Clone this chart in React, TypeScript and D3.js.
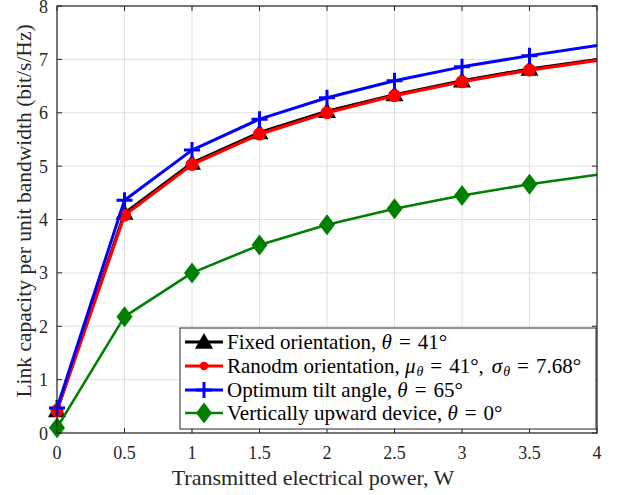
import React, { useEffect, useRef } from 'react';
import * as d3 from 'd3';

const power = [0, 0.5, 1, 1.5, 2, 2.5, 3, 3.5, 4];
const fixedOrientation = [0.42, 4.12, 5.06, 5.63, 6.03, 6.34, 6.6, 6.82, 7.0];
const randomOrientation = [0.42, 4.08, 5.03, 5.6, 6.0, 6.32, 6.58, 6.8, 6.98];
const optimumTilt = [0.47, 4.36, 5.3, 5.88, 6.28, 6.6, 6.86, 7.07, 7.26];
const verticalUpward = [0.1, 2.18, 3.0, 3.52, 3.9, 4.2, 4.45, 4.66, 4.84];

const xTicks = [0, 0.5, 1, 1.5, 2, 2.5, 3, 3.5, 4];
const yTicks = [0, 1, 2, 3, 4, 5, 6, 7, 8];

const WIDTH = 621;
const HEIGHT = 495;
const FONT = 'Liberation Serif, serif';

type Marker = 'triangle' | 'circle' | 'plus' | 'diamond';
type Part = { t: string; italic?: boolean; sub?: boolean; dx?: number };

const series: { values: number[]; color: string; marker: Marker; width: number }[] = [
  { values: fixedOrientation, color: '#000000', marker: 'triangle', width: 3 },
  { values: randomOrientation, color: '#ff0000', marker: 'circle', width: 3.2 },
  { values: optimumTilt, color: '#0000ff', marker: 'plus', width: 3 },
  { values: verticalUpward, color: '#008000', marker: 'diamond', width: 2.6 },
];

// legend labels, with the LaTeX-ish math split into parts
const eq: Part = { t: '=', dx: 7 };
const legendLabels: Part[][] = [
  [{ t: 'Fixed orientation, ' }, { t: 'θ', italic: true }, eq, { t: '41°', dx: 7 }],
  [
    { t: 'Ranodm orientation, ' }, { t: 'μ', italic: true }, { t: 'θ', italic: true, sub: true, dx: 1 },
    eq, { t: '41°', dx: 7 }, { t: ',' }, { t: 'σ', italic: true, dx: 8 }, { t: 'θ', italic: true, sub: true, dx: 1 },
    eq, { t: '7.68°', dx: 7 },
  ],
  [{ t: 'Optimum tilt angle, ' }, { t: 'θ', italic: true }, eq, { t: '65°', dx: 7 }],
  [{ t: 'Vertically upward device, ' }, { t: 'θ', italic: true }, eq, { t: '0°', dx: 7 }],
];

function drawMarker(g: d3.Selection<SVGGElement, unknown, null, undefined>, kind: Marker, cx: number, cy: number, color: string, scale = 1) {
  if (kind === 'triangle') {
    const s = 9 * scale;
    g.append('path')
      .attr('d', `M${cx},${cy - s}L${cx + s},${cy + s * 0.75}L${cx - s},${cy + s * 0.75}Z`)
      .attr('fill', color);
  } else if (kind === 'circle') {
    g.append('circle').attr('cx', cx).attr('cy', cy).attr('r', 6.5 * scale).attr('fill', color);
  } else if (kind === 'plus') {
    const s = 8 * scale;
    g.append('path')
      .attr('d', `M${cx - s},${cy}H${cx + s}M${cx},${cy - s}V${cy + s}`)
      .attr('stroke', color)
      .attr('stroke-width', 3);
  } else {
    const w = 8 * scale;
    const h = 10.5 * scale;
    g.append('path')
      .attr('d', `M${cx},${cy - h}L${cx + w},${cy}L${cx},${cy + h}L${cx - w},${cy}Z`)
      .attr('fill', color);
  }
}

const CapacityChart: React.FC = () => {
  const svgRef = useRef<SVGSVGElement>(null);

  useEffect(() => {
    if (!svgRef.current) return;
    const svg = d3.select(svgRef.current);
    svg.selectAll('*').remove();

    const left = 57, right = 597, top = 6, bottom = 433;

    const xScale = d3.scaleLinear().domain([0, 4]).range([left, right]);
    const yScale = d3.scaleLinear().domain([0, 8]).range([bottom, top]);

    svg.append('rect').attr('width', WIDTH).attr('height', HEIGHT).attr('fill', '#ffffff');

    // grid
    const grid = svg.append('g');
    xTicks.forEach(t => {
      grid.append('line')
        .attr('x1', xScale(t)).attr('x2', xScale(t))
        .attr('y1', top).attr('y2', bottom)
        .attr('stroke', '#e0e0e0').attr('stroke-width', 1);
    });
    yTicks.forEach(t => {
      grid.append('line')
        .attr('x1', left).attr('x2', right)
        .attr('y1', yScale(t)).attr('y2', yScale(t))
        .attr('stroke', '#e0e0e0').attr('stroke-width', 1);
    });

    // ticks inside, on all four sides
    const axisColor = '#262626';
    const tickLen = 5;
    const ticks = svg.append('g').attr('stroke', axisColor).attr('stroke-width', 1);
    xTicks.forEach(t => {
      ticks.append('line').attr('x1', xScale(t)).attr('x2', xScale(t)).attr('y1', bottom).attr('y2', bottom - tickLen);
      ticks.append('line').attr('x1', xScale(t)).attr('x2', xScale(t)).attr('y1', top).attr('y2', top + tickLen);
    });
    yTicks.forEach(t => {
      ticks.append('line').attr('x1', left).attr('x2', left + tickLen).attr('y1', yScale(t)).attr('y2', yScale(t));
      ticks.append('line').attr('x1', right).attr('x2', right - tickLen).attr('y1', yScale(t)).attr('y2', yScale(t));
    });

    // lines and markers
    const line = d3.line<number>()
      .x((_, i) => xScale(power[i]))
      .y(d => yScale(d));

    const plot = svg.append('g');
    series.forEach(s => {
      plot.append('path')
        .datum(s.values)
        .attr('fill', 'none')
        .attr('stroke', s.color)
        .attr('stroke-width', s.width)
        .attr('stroke-linejoin', 'round')
        .attr('d', line);
      s.values.forEach((v, i) => {
        if (power[i] >= 4) return;
        drawMarker(plot, s.marker, xScale(power[i]), yScale(v), s.color);
      });
    });

    // box
    svg.append('rect')
      .attr('x', left).attr('y', top)
      .attr('width', right - left).attr('height', bottom - top)
      .attr('fill', 'none').attr('stroke', axisColor).attr('stroke-width', 1.2);

    // tick labels
    xTicks.forEach(t => {
      svg.append('text')
        .attr('x', xScale(t)).attr('y', 459)
        .attr('text-anchor', 'middle')
        .style('font-family', FONT).style('font-size', '18px')
        .attr('fill', '#262626')
        .text(String(t));
    });
    yTicks.forEach(t => {
      svg.append('text')
        .attr('x', 48).attr('y', yScale(t) + 6.5)
        .attr('text-anchor', 'end')
        .style('font-family', FONT).style('font-size', '18px')
        .attr('fill', '#262626')
        .text(String(t));
    });

    // axis titles
    svg.append('text')
      .attr('x', 313).attr('y', 485)
      .attr('text-anchor', 'middle')
      .style('font-family', FONT).style('font-size', '22px')
      .attr('fill', '#262626')
      .text('Transmitted electrical power, W');

    svg.append('text')
      .attr('transform', 'translate(31,211) rotate(-90)')
      .attr('text-anchor', 'middle')
      .style('font-family', FONT).style('font-size', '21.5px')
      .attr('fill', '#262626')
      .text('Link capacity per unit bandwidth (bit/s/Hz)');

    // legend
    const legend = svg.append('g');
    legend.append('rect')
      .attr('x', 180).attr('y', 328)
      .attr('width', 416).attr('height', 101)
      .attr('fill', '#ffffff').attr('stroke', '#262626').attr('stroke-width', 1);

    const rowY = [342, 366, 390, 413];

    series.forEach((s, i) => {
      const y = rowY[i];
      legend.append('line')
        .attr('x1', 185).attr('x2', 223)
        .attr('y1', y).attr('y2', y)
        .attr('stroke', s.color).attr('stroke-width', s.width);
      drawMarker(legend, s.marker, 204, y, s.color, s.marker === 'circle' ? 0.65 : 1);

      const text = legend.append('text')
        .attr('x', 227).attr('y', y + 7)
        .style('font-family', FONT).style('font-size', '21px')
        .attr('fill', '#000000');
      let lowered = false;
      legendLabels[i].forEach(part => {
        const sp = text.append('tspan').text(part.t);
        if (part.italic) sp.style('font-style', 'italic');
        if (part.dx) sp.attr('dx', part.dx);
        if (part.sub) {
          sp.style('font-size', '14px');
          if (!lowered) sp.attr('dy', 3);
          lowered = true;
        } else if (lowered) {
          sp.attr('dy', -3);
          lowered = false;
        }
      });
    });
  }, []);

  return <svg ref={svgRef} width={WIDTH} height={HEIGHT} style={{ display: 'block' }} />;
};

export default function App() {
  return (
    <div style={{ position: 'absolute', left: 0, top: 0 }}>
      <CapacityChart />
    </div>
  );
}
